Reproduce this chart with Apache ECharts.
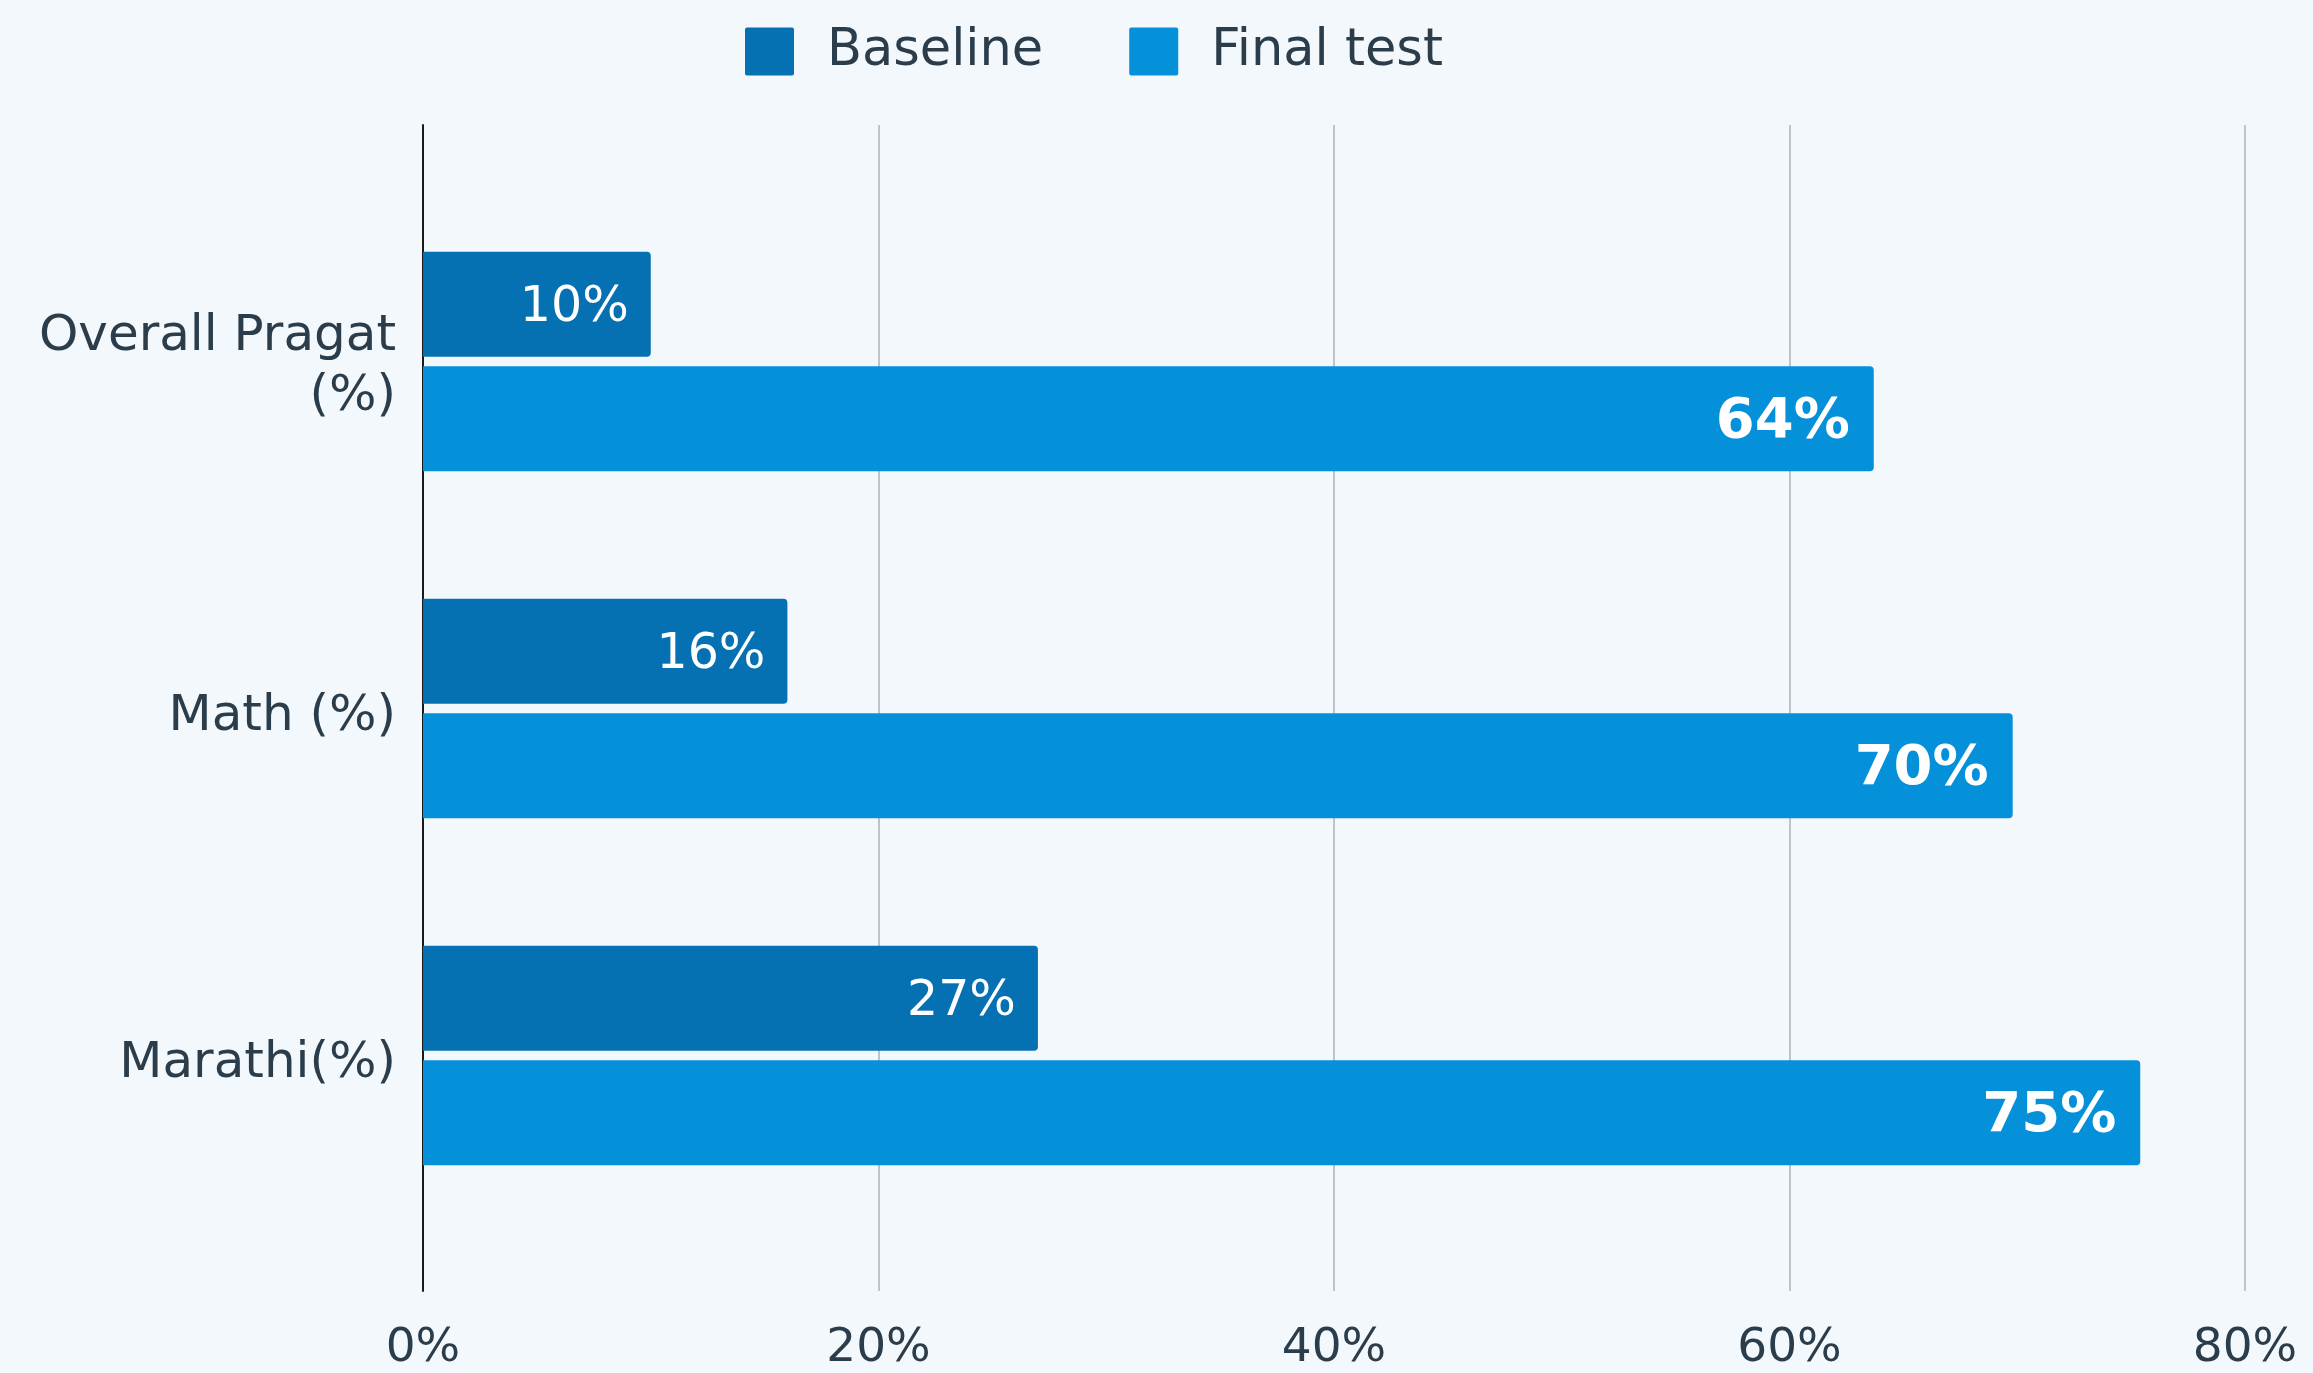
<!DOCTYPE html>
<html>
<head>
<meta charset="utf-8">
<script src="https://cdn.jsdelivr.net/npm/echarts@6/dist/echarts.min.js"></script>
<style>
html,body{margin:0;padding:0;background:#f3f8fc;}
#chart{width:2313px;height:1373px;}
</style>
</head>
<body>
<div id="chart"></div>
<script>
const categories = ['Overall Pragat\n(%)', 'Math (%)', 'Marathi(%)'];
const baseline = [10, 16, 27];
const finalTest = [63.7, 69.8, 75.4];
const seriesNames = ['Baseline', 'Final test'];
const axisMin = 0, axisMax = 80, axisInterval = 20;

const FONT = 'DejaVu Sans';
const TEXT = '#2b3d4a';
const chart = echarts.init(document.getElementById('chart'));
chart.setOption({
  backgroundColor: '#f3f8fc',
  animation: false,
  legend: {
    left: 740, top: 21,
    itemWidth: 49, itemHeight: 48, itemGap: 86,
    icon: 'path://M2,0 L47,0 Q49,0 49,2 L49,46 Q49,48 47,48 L2,48 Q0,48 0,46 L0,2 Q0,0 2,0 Z',
    textStyle: { fontFamily: FONT, fontSize: 51, color: TEXT, padding: [0, 0, 0, 28] },
    data: seriesNames
  },
  grid: [
    { left: 423, right: 68, top: 125, bottom: 82 },
    { left: 423, right: 68, top: 188, bottom: 144 }
  ],
  xAxis: [
    { type: 'value', gridIndex: 0, min: axisMin, max: axisMax, interval: axisInterval,
      axisLine: { show: false }, axisTick: { show: false },
      splitLine: { show: true, lineStyle: { color: '#bfc4c8', width: 2 } },
      axisLabel: { fontFamily: FONT, fontSize: 47, color: TEXT, margin: 34, formatter: v => v + '%' } },
    { type: 'value', gridIndex: 1, min: axisMin, max: axisMax, show: false }
  ],
  yAxis: [
    { type: 'value', gridIndex: 0, min: 0, max: 1,
      axisLine: { show: true, onZero: false, lineStyle: { color: '#1a1a1a', width: 2 } },
      axisTick: { show: false }, axisLabel: { show: false }, splitLine: { show: false } },
    { type: 'category', gridIndex: 1, inverse: true, data: categories,
      axisLine: { show: false }, axisTick: { show: false },
      axisLabel: { margin: 27, align: 'right',
        formatter: v => v.split('\n').map((s, i) => (i === 0 ? '{a|' : '{b|') + s + '}').join('\n'),
        rich: {
          a: { fontFamily: FONT, fontSize: 50, color: TEXT, lineHeight: 66, padding: [18, 0, 0, 0], align: 'right' },
          b: { fontFamily: FONT, fontSize: 50, color: TEXT, lineHeight: 66, padding: [6, 0, 0, 0], align: 'right' }
        } } }
  ],
  series: [
    { name: seriesNames[0], type: 'bar', xAxisIndex: 1, yAxisIndex: 1, data: baseline,
      barWidth: 105, barGap: '9%',
      itemStyle: { color: '#0571b2', borderRadius: [0, 4, 4, 0] },
      label: { show: true, position: 'insideRight', distance: 22, offset: [0, 4], color: '#ffffff',
        fontFamily: FONT, fontSize: 49, formatter: p => Math.round(p.value) + '%' } },
    { name: seriesNames[1], type: 'bar', xAxisIndex: 1, yAxisIndex: 1, data: finalTest,
      barWidth: 105,
      itemStyle: { color: '#0590da', borderRadius: [0, 4, 4, 0] },
      label: { show: true, position: 'insideRight', distance: 24, offset: [0, 4], color: '#ffffff',
        fontFamily: FONT, fontSize: 56, fontWeight: 'bold', formatter: p => Math.round(p.value) + '%' } }
  ]
});
</script>
</body>
</html>
